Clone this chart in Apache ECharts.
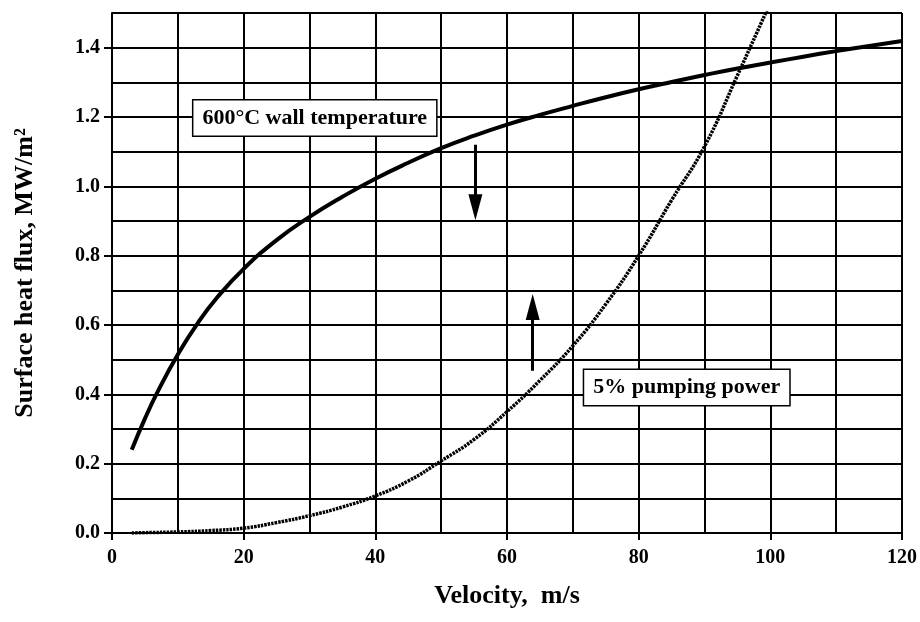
<!DOCTYPE html>
<html>
<head>
<meta charset="utf-8">
<script src="https://cdn.jsdelivr.net/npm/echarts@6/dist/echarts.min.js"></script>
<style>
  html, body { margin: 0; padding: 0; background: #fff; }
  #chart { width: 920px; height: 622px; }
</style>
</head>
<body>
<div id="chart"></div>
<script>
// 600°C wall temperature curve (velocity m/s -> MW/m2)
const wallVelocity = [3, 5, 7, 10, 13, 16, 20, 25, 30, 35, 40, 45, 50, 55, 60, 65, 70, 75, 80, 85, 90, 95, 100, 105, 110, 115, 120];
const wallFlux = [0.24, 0.33, 0.41, 0.515, 0.605, 0.68, 0.762, 0.845, 0.912, 0.97, 1.022, 1.068, 1.11, 1.146, 1.178, 1.206, 1.232, 1.257, 1.28, 1.301, 1.321, 1.34, 1.357, 1.374, 1.39, 1.405, 1.419];

// 5% pumping power curve
const pumpVelocity = [3, 5, 10, 15, 20, 25, 30, 35, 40, 45, 50, 55, 60, 65, 70, 75, 80, 85, 90, 95, 100];
const pumpFlux = [0, 0.001, 0.003, 0.007, 0.014, 0.03, 0.05, 0.075, 0.107, 0.15, 0.208, 0.27, 0.35, 0.44, 0.54, 0.66, 0.80, 0.96, 1.115, 1.32, 1.53];

const xTicks = [0, 20, 40, 60, 80, 100, 120];
const yTicks = [0, 0.2, 0.4, 0.6, 0.8, 1.0, 1.2, 1.4];

// annotation boxes and arrows (data coords)
const wallLabelPos = [30.8, 1.197];
const pumpLabelPos = [87.3, 0.42];
const downArrow = [[55.2, 1.12], [55.2, 0.94]];
const upArrow = [[63.9, 0.468], [63.9, 0.652]];

const serif = '"Liberation Serif", "Times New Roman", serif';
const gridLine = { show: true, lineStyle: { color: '#000', width: 2 } };

const chart = echarts.init(document.getElementById('chart'));

const boxLabel = {
    show: true,
    position: 'inside',
    color: '#000',
    fontFamily: serif,
    fontWeight: 'bold',
    fontSize: 22,
    backgroundColor: '#fff',
    borderColor: '#000',
    borderWidth: 1.5,
    padding: [7, 9, 6, 9]
};

// hidden axes that only draw the full 10 m/s x 0.1 MW/m2 grid
const gridXAxis = {
    type: 'value', min: 0, max: 120, interval: 10,
    axisLine: { show: false }, axisTick: { show: false }, axisLabel: { show: false },
    splitLine: gridLine
};
const gridYAxis = {
    type: 'value', min: 0, max: 1.5, interval: 0.1,
    axisLine: { show: false }, axisTick: { show: false }, axisLabel: { show: false },
    splitLine: gridLine
};

const option = {
    animation: false,
    backgroundColor: '#fff',
    grid: { left: 112, right: 17, top: 13, bottom: 89 },
    xAxis: [{
        type: 'value',
        min: 0, max: 120, interval: 20,
        name: 'Velocity,  m/s',
        nameLocation: 'middle',
        nameGap: 50,
        nameTextStyle: { fontFamily: serif, fontWeight: 'bold', fontSize: 26, color: '#000' },
        axisLine: { show: true, lineStyle: { color: '#000', width: 2 } },
        axisTick: { show: true, length: 7, customValues: xTicks, lineStyle: { color: '#000', width: 2 } },
        axisLabel: {
            customValues: xTicks,
            margin: 15,
            fontFamily: serif, fontWeight: 'bold', fontSize: 20, color: '#000'
        },
        splitLine: { show: false }
    }, gridXAxis],
    yAxis: [{
        type: 'value',
        min: 0, max: 1.5, interval: 0.1,
        name: 'Surface heat flux, MW/m²',
        nameLocation: 'middle',
        nameGap: 74,
        nameTextStyle: { fontFamily: serif, fontWeight: 'bold', fontSize: 26, color: '#000' },
        axisLine: { show: true, lineStyle: { color: '#000', width: 2 } },
        axisTick: { show: true, length: 8, customValues: yTicks, lineStyle: { color: '#000', width: 2 } },
        axisLabel: {
            customValues: yTicks,
            margin: 12,
            formatter: v => v.toFixed(1),
            fontFamily: serif, fontWeight: 'bold', fontSize: 20, color: '#000'
        },
        splitLine: { show: false }
    }, gridYAxis],
    series: [
        {
            name: '600°C wall temperature',
            type: 'line',
            smooth: true,
            symbol: 'none',
            data: wallVelocity.map((v, i) => [v, wallFlux[i]]),
            lineStyle: { color: '#000', width: 4 },
            z: 5,
            markPoint: {
                symbol: 'rect',
                symbolSize: 0,
                silent: true,
                label: boxLabel,
                data: [
                    { coord: wallLabelPos, label: { formatter: '600°C wall temperature' } },
                    { coord: pumpLabelPos, label: { formatter: '5% pumping power' } }
                ]
            },
            markLine: {
                silent: true,
                symbol: ['none', 'triangle'],
                symbolSize: [14, 26],
                label: { show: false },
                lineStyle: { color: '#000', width: 3, type: 'solid' },
                data: [
                    [{ coord: downArrow[0] }, { coord: downArrow[1] }],
                    [{ coord: upArrow[0] }, { coord: upArrow[1] }]
                ]
            }
        },
        {
            name: '5% pumping power',
            type: 'line',
            smooth: true,
            symbol: 'none',
            data: pumpVelocity.map((v, i) => [v, pumpFlux[i]]),
            lineStyle: { color: '#000', width: 3.5, type: [2.5, 1] },
            z: 4
        }
    ]
};

chart.setOption(option);
</script>
</body>
</html>
